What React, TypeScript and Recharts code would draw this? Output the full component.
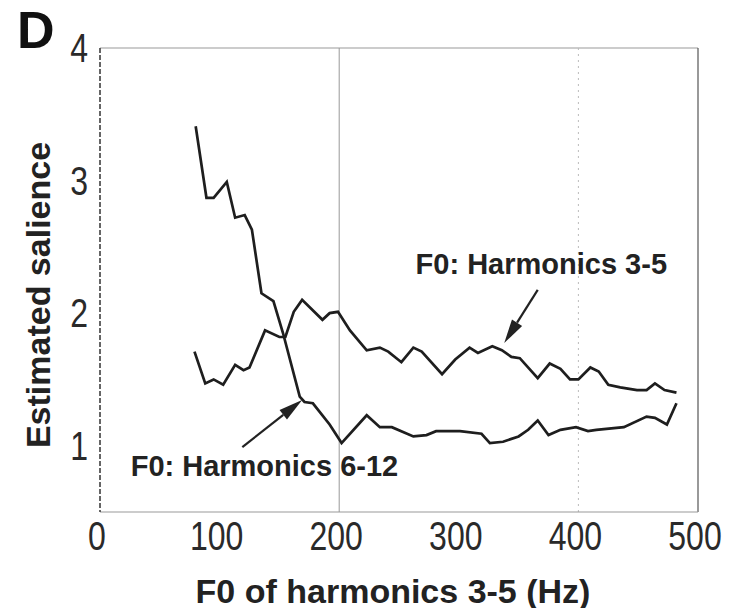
import React from "react";
import { LineChart, Line, XAxis, YAxis, ReferenceLine, ReferenceDot } from "recharts";

const FONT = "'Liberation Sans', Arial, Helvetica, sans-serif";

const f0Ticks = [0, 100, 200, 300, 400, 500];
const salienceTicks = [1, 2, 3, 4];

// F0: Harmonics 6-12 (starts high, drops to ~1)
const h612F0 = [80, 89, 95, 106, 113, 121, 127, 135, 145, 153, 167, 171, 178, 192, 202, 223, 234, 244, 262, 273, 281, 301, 319, 326, 337, 350, 358, 366, 375, 385, 398, 408, 415, 438, 457, 464, 474, 482];
const h612Sal = [3.41, 2.87, 2.87, 2.99, 2.72, 2.74, 2.63, 2.15, 2.09, 1.85, 1.37, 1.33, 1.32, 1.16, 1.02, 1.23, 1.14, 1.14, 1.07, 1.08, 1.11, 1.11, 1.09, 1.02, 1.03, 1.07, 1.12, 1.19, 1.08, 1.12, 1.14, 1.11, 1.12, 1.14, 1.22, 1.21, 1.16, 1.32];

// F0: Harmonics 3-5
const h35F0 = [79, 88, 95, 103, 113, 120, 125, 138, 150, 155, 162, 169, 186, 192, 199, 209, 223, 234, 241, 252, 262, 269, 286, 297, 309, 316, 328, 336, 344, 351, 366, 376, 385, 393, 400, 410, 417, 425, 435, 449, 457, 464, 472, 482];
const h35Sal = [1.71, 1.47, 1.50, 1.46, 1.61, 1.57, 1.59, 1.87, 1.82, 1.82, 2.01, 2.10, 1.95, 2.00, 2.01, 1.87, 1.72, 1.74, 1.71, 1.63, 1.74, 1.71, 1.54, 1.65, 1.74, 1.70, 1.75, 1.72, 1.67, 1.66, 1.51, 1.62, 1.58, 1.50, 1.50, 1.59, 1.56, 1.46, 1.44, 1.42, 1.42, 1.47, 1.42, 1.40];

// annotation anchors, in data units
const label35 = { f: 369, s: 2.37, text: "F0: Harmonics 3-5" };
const arrow35 = [{ x: 366, y: 2.175 }, { x: 338, y: 1.775 }];
const label612 = { f: 137.5, s: 0.85, text: "F0: Harmonics 6-12" };
const arrow612 = [{ x: 119, y: 0.99 }, { x: 169, y: 1.345 }];

const h612 = h612F0.map((f, i) => ({ f, s: h612Sal[i] }));
const h35 = h35F0.map((f, i) => ({ f, s: h35Sal[i] }));

// the scan uses a condensed face for the numbers; squeeze the regular one
function XTick(p: any) {
  return (
    <g transform={`translate(${p.x - 3},${p.y})`}>
      <text transform="scale(0.8,1)" textAnchor="middle" dy="0.71em" fontSize={40} fontFamily={FONT} fill="#2a2a2a">
        {p.payload.value}
      </text>
    </g>
  );
}

function YTick(p: any) {
  return (
    <g transform={`translate(${p.x},${p.y})`}>
      <text transform="scale(0.8,1)" textAnchor="end" dy="0.355em" fontSize={40} fontFamily={FONT} fill="#2a2a2a">
        {p.payload.value}
      </text>
    </g>
  );
}

function Arrow(props: any) {
  const { x1, y1, x2, y2 } = props;
  const a = Math.atan2(y2 - y1, x2 - x1);
  const len = 24;
  const half = 6;
  const bx = x2 - len * Math.cos(a);
  const by = y2 - len * Math.sin(a);
  const px = -Math.sin(a) * half;
  const py = Math.cos(a) * half;
  return (
    <g>
      <line x1={x1} y1={y1} x2={bx} y2={by} stroke="#222" strokeWidth={2.2} />
      <polygon points={`${x2},${y2} ${bx + px},${by + py} ${bx - px},${by - py}`} fill="#222" />
    </g>
  );
}

function NoteText(text: string) {
  return (p: any) => (
    <text x={p.cx} y={p.cy} textAnchor="middle" dominantBaseline="central"
      fontFamily={FONT} fontWeight="bold" fontSize={29} fill="#222">
      {text}
    </text>
  );
}

export default function App() {
  return (
    <div style={{ position: "relative", margin: -8, width: 730, height: 616, overflow: "hidden", background: "#fff", fontFamily: FONT }}>
      <div style={{ position: "absolute", left: 17, top: 4, fontSize: 52, fontWeight: "bold", color: "#111", lineHeight: 1 }}>D</div>
      <LineChart width={730} height={616} margin={{ top: 48, right: 32, left: 0, bottom: 0 }}>
        <XAxis
          dataKey="f"
          type="number"
          domain={[0, 500]}
          ticks={f0Ticks}
          height={104}
          tickLine={false}
          tickSize={0}
          tickMargin={10}
          axisLine={{ stroke: "#999", strokeWidth: 1 }}
          tick={XTick}
          label={{
            content: ({ viewBox }: any) => (
              <text x={viewBox.x + viewBox.width / 2 - 6} y={viewBox.y + viewBox.height - 13}
                textAnchor="middle" fontFamily={FONT} fontWeight="bold" fontSize={34} fill="#222">
                F0 of harmonics 3-5 (Hz)
              </text>
            ),
          }}
        />
        <YAxis
          type="number"
          domain={[0.5, 4]}
          ticks={salienceTicks}
          width={100}
          tickLine={false}
          tickSize={0}
          tickMargin={12}
          axisLine={{ stroke: "#333", strokeWidth: 1.5, strokeDasharray: "5 2" }}
          tick={YTick}
          label={{
            content: ({ viewBox }: any) => {
              const cx = viewBox.x + 38;
              const cy = viewBox.y + viewBox.height / 2 + 15;
              return (
                <text x={cx} y={cy} transform={`rotate(-90, ${cx}, ${cy})`} textAnchor="middle"
                  dominantBaseline="central" fontFamily={FONT} fontWeight="bold" fontSize={34} fill="#222">
                  Estimated salience
                </text>
              );
            },
          }}
        />
        <ReferenceLine y={4} stroke="#999" strokeWidth={1} />
        <ReferenceLine x={500} stroke="#555" strokeWidth={1.2} />
        <ReferenceLine x={200} stroke="#999" strokeWidth={1} />
        <ReferenceLine x={400} stroke="#bbb" strokeWidth={1} strokeDasharray="2 4" />
        <Line data={h612} dataKey="s" type="linear" stroke="#1e1e1e" strokeWidth={2.7} dot={false} isAnimationActive={false} />
        <Line data={h35} dataKey="s" type="linear" stroke="#1e1e1e" strokeWidth={2.7} dot={false} isAnimationActive={false} />
        <ReferenceLine segment={arrow35} shape={Arrow} />
        <ReferenceLine segment={arrow612} shape={Arrow} />
        <ReferenceDot x={label35.f} y={label35.s} r={0} shape={NoteText(label35.text)} />
        <ReferenceDot x={label612.f} y={label612.s} r={0} shape={NoteText(label612.text)} />
      </LineChart>
    </div>
  );
}
